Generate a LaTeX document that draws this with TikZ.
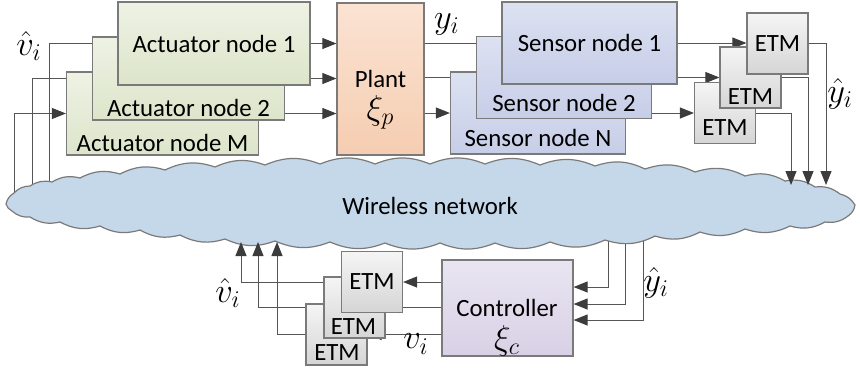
\documentclass[tikz,border=0pt]{standalone}
\usepackage{fontspec}
\setmainfont{Carlito}
\usepackage{tikz}
\usetikzlibrary{positioning,calc,arrows.meta}
\pgfdeclarelayer{back}
\pgfdeclarelayer{mid}
\pgfsetlayers{back,mid,main}

\definecolor{boxgray}{HTML}{7A7A7A}
\definecolor{linegray}{HTML}{555555}
\definecolor{tipgray}{HTML}{3C3C3C}
\definecolor{actTop}{HTML}{EEF2E4}
\definecolor{actBot}{HTML}{DCE5CA}
\definecolor{plantTop}{HTML}{FBE3D3}
\definecolor{plantBot}{HTML}{F5CDB1}
\definecolor{senTop}{HTML}{DDE2F2}
\definecolor{senBot}{HTML}{C6CDE7}
\definecolor{etmTop}{HTML}{F5F5F5}
\definecolor{etmBot}{HTML}{D5D5D5}
\definecolor{ctrlTop}{HTML}{E9E5F1}
\definecolor{ctrlBot}{HTML}{D8D1E6}
\definecolor{netblue}{HTML}{C5D8EA}

\newcommand{\mathbig}{\fontsize{17pt}{18pt}\selectfont}

\tikzset{
  box/.style={draw=boxgray, line width=0.6pt, inner sep=0pt},
  actbox/.style={box, top color=actTop, bottom color=actBot, minimum width=96pt, minimum height=41.5pt},
  plantbox/.style={box, top color=plantTop, bottom color=plantBot, minimum width=43.5pt, minimum height=76pt},
  senbox/.style={box, top color=senTop, bottom color=senBot, minimum width=87.5pt, minimum height=41pt},
  etmbox/.style={box, top color=etmTop, bottom color=etmBot, minimum width=30.5pt, minimum height=30.5pt},
  ctrlbox/.style={box, top color=ctrlTop, bottom color=ctrlBot, minimum width=65.5pt, minimum height=48pt},
  sig/.style={font=\mathbig},
  conn/.style={draw=linegray, line width=0.5pt, -{Triangle[length=7pt,width=5.5pt,color=tipgray]}},
  cloudline/.style={draw=boxgray, line width=0.6pt, fill=netblue}
}

\begin{document}
\begin{tikzpicture}[x=0.5pt, y=-0.5pt, every node/.style={font=\fontsize{12.4pt}{15pt}\selectfont}]
\useasboundingbox (0,0) rectangle (860,371);

% actuators
\node[actbox] (am) at (162.5,113.5) {};
\node (amt) at (162.5,143) {Actuator node M};
\node[actbox] (a2) at (188.5,78.5) {};
\node (a2t) at (188.5,108) {Actuator node 2};
\node[actbox] (a1) at (214,43.5) {Actuator node 1};

% plant
\node[plantbox] (plant) at (380.5,79) {};
\node[inner sep=1pt] (plantt) at (380.5,79) {Plant};
\node[sig, inner sep=1pt] (plantx) at (380.5,112) {$\xi_p$};

% sensors
\node[senbox] (sn) at (538,113) {};
\node (snt) at (538,138) {Sensor node N};
\node[senbox] (s2) at (564,77.5) {};
\node (s2t) at (564,103) {Sensor node 2};
\node[senbox] (s1) at (589.5,43) {Sensor node 1};

% trigger blocks, sensor side
\node[etmbox] (e3) at (725,113) {};
\node (e3t) at (725,128) {ETM};
\node[etmbox] (e2) at (750.5,77.5) {};
\node (e2t) at (750.5,97) {ETM};
\node[etmbox] (e1) at (777.5,43.5) {ETM};

% controller and its trigger blocks
\node[ctrlbox] (ctrl) at (507.5,308) {};
\node[inner sep=1pt] (ctrlt) at (507,308) {Controller};
\node[sig, inner sep=1pt] (ctrlx) at (507,341) {$\xi_c$};
\node[etmbox] (b3) at (336.5,334.5) {};
\node (b3t) at (337,353) {ETM};
\node[etmbox] (b2) at (354.5,307.5) {};
\node (b2t) at (353.5,327) {ETM};
\node[etmbox] (b1) at (372,282) {ETM};

% network
\node (net) at (430,206) {Wireless network};

% signal labels
\node[sig] (vhat) at (29,46) {$\hat{v}_i$};
\node[sig] (yi) at (447,24) {$y_i$};
\node[sig] (yhat) at (840,94) {$\hat{y}_i$};
\node[sig] (vhatb) at (228,293) {$\hat{v}_i$};
\node[sig] (vi) at (416,344) {$v_i$};
\node[sig] (yhatb) at (656,283) {$\hat{y}_i$};

\begin{pgfonlayer}{back}
  \coordinate (n1) at (49,210);
  \coordinate (n2) at (32,210);
  \coordinate (n3) at (14,210);
  \draw[conn] (n1) |- (a1.west);
  \draw[conn] (n2) |- (a2.west);
  \draw[conn] (n3) |- (am.west);
  \coordinate (r1) at (608,215);
  \coordinate (r2) at (625,215);
  \coordinate (r3) at (643,215);
  \draw[conn] (r1) |- ([yshift=10.5pt]ctrl.east);
  \draw[conn] (r2) |- ([yshift=2pt]ctrl.east);
  \draw[conn] (r3) |- ([yshift=-6pt]ctrl.east);
  % cloud outline
  \draw[cloudline] (6,204)
    \foreach \x/\y in {14/193, 30/186, 52/182, 80/178, 120/174, 165/170, 215/167,
      265/165, 320/164, 375/164, 430/164, 485/164, 540/165, 595/166, 645/169,
      695/172, 745/176, 785/181, 815/187, 840/194, 855/205, 848/216, 825/222,
      790/226, 745/229, 700/232, 655/236, 605/240, 550/242, 495/243, 440/243,
      385/243, 330/242, 275/241, 225/239, 180/235, 140/230, 100/226, 60/222,
      30/217, 12/211, 6/204} { to[bend left=22] (\x,\y) } -- cycle;
\end{pgfonlayer}

\begin{pgfonlayer}{mid}
  \draw[conn] (a1.east) -- (a1.east -| plant.west);
  \draw[conn] (a2.east) -- (a2.east -| plant.west);
  \draw[conn] (am.east) -- (am.east -| plant.west);
  \draw[conn] (plant.east |- s1.west) -- (s1.west);
  \draw[conn] (plant.east |- s2.west) -- (s2.west);
  \draw[conn] (plant.east |- sn.west) -- (sn.west);
  \draw[conn] (s1.east) -- (s1.east -| e1.west);
  \draw[conn] (s2.east) -- (s2.east -| e2.west);
  \draw[conn] (sn.east) -- (sn.east -| e3.west);
  \coordinate (t1) at (826,185);
  \coordinate (t2) at (808,185);
  \coordinate (t3) at (791,185);
  \draw[conn] (e1.east) -| (t1);
  \draw[conn] (e2.east) -| (t2);
  \draw[conn] (e3.east) -| (t3);
  \draw[conn] (ctrl.west |- b1.east) -- (b1.east);
  \draw[conn] (ctrl.west |- b2.east) -- (b2.east);
  \draw[conn] (ctrl.west |- b3.east) -- (b3.east);
  \coordinate (u1) at (241,242);
  \coordinate (u2) at (258,242);
  \coordinate (u3) at (277,242);
  \draw[conn] (b1.west) -| (u1);
  \draw[conn] (b2.west) -| (u2);
  \draw[conn] (b3.west) -| (u3);
\end{pgfonlayer}
\end{tikzpicture}
\end{document}
